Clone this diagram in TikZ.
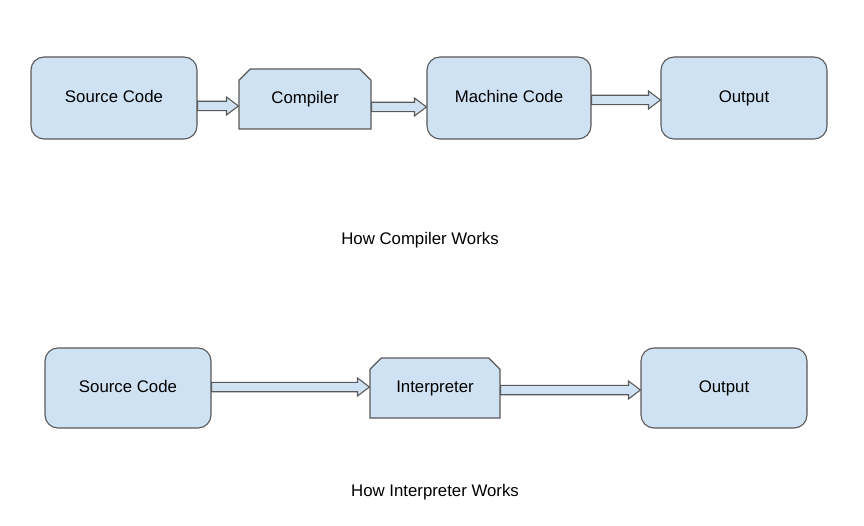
\documentclass[tikz,border=0pt]{standalone}
\usepackage{fontspec}
\setmainfont{Liberation Sans}
\usepackage{tikz}
\usetikzlibrary{shapes.misc,calc}
\definecolor{boxblue}{HTML}{CFE2F3}
\definecolor{boxline}{HTML}{595959}
\tikzset{
  stagebox/.style={draw=boxline, fill=boxblue, line width=1.1pt, rounded corners=13pt,
    minimum width=166pt, minimum height=82pt, text height=12pt, text depth=3.5pt,
    font=\fontsize{16.8}{20}\selectfont},
  toolbox/.style={draw=boxline, fill=boxblue, line width=1.1pt, chamfered rectangle,
    chamfered rectangle corners={north west,north east}, chamfered rectangle xsep=11pt,
    minimum width=132pt, minimum height=60pt, inner sep=0pt, text height=12pt, text depth=3.5pt,
    font=\fontsize{16.8}{20}\selectfont},
  blockarr/.style={draw=boxline, fill=boxblue, line width=1.1pt, line join=miter,
    to path={let \p1=(\tikztostart), \p2=(\tikztotarget) in
      (\x1,\y1+4.7) -- (\x2-12,\y1+4.7) -- (\x2-12,\y1+9) -- (\x2,\y1)
      -- (\x2-12,\y1-9) -- (\x2-12,\y1-4.7) -- (\x1,\y1-4.7) -- cycle}},
  caption/.style={font=\fontsize{16.8}{20}\selectfont},
}
\begin{document}
\begin{tikzpicture}[x=1pt,y=1pt]
\useasboundingbox (0,0) rectangle (864,525);
% compiler
\node[stagebox] (srcA) at (114,427) {Source Code};
\node[toolbox] (comp) at (305,426) {Compiler};
\node[stagebox, minimum width=164pt] (mach) at (509,427) {Machine Code};
\node[stagebox] (outA) at (744,427) {Output};
\draw[blockarr] ([yshift=-8pt]srcA.east) to (comp.west);
\draw[blockarr] ([yshift=-8pt]comp.east) to (mach.west);
\draw[blockarr] ([yshift=-2pt]mach.east) to (outA.west);
\node[caption] (capA) at (420,285) {How Compiler Works};
% interpreter
\node[stagebox, minimum height=80pt] (srcB) at (128,137) {Source Code};
\node[toolbox, minimum width=130pt] (interp) at (435,137) {Interpreter};
\node[stagebox, minimum height=80pt] (outB) at (724,137) {Output};
\draw[blockarr] ([yshift=1pt]srcB.east) to (interp.west);
\draw[blockarr] ([yshift=-2pt]interp.east) to (outB.west);
\node[caption] (capB) at (435,33) {How Interpreter Works};
\end{tikzpicture}
\end{document}
